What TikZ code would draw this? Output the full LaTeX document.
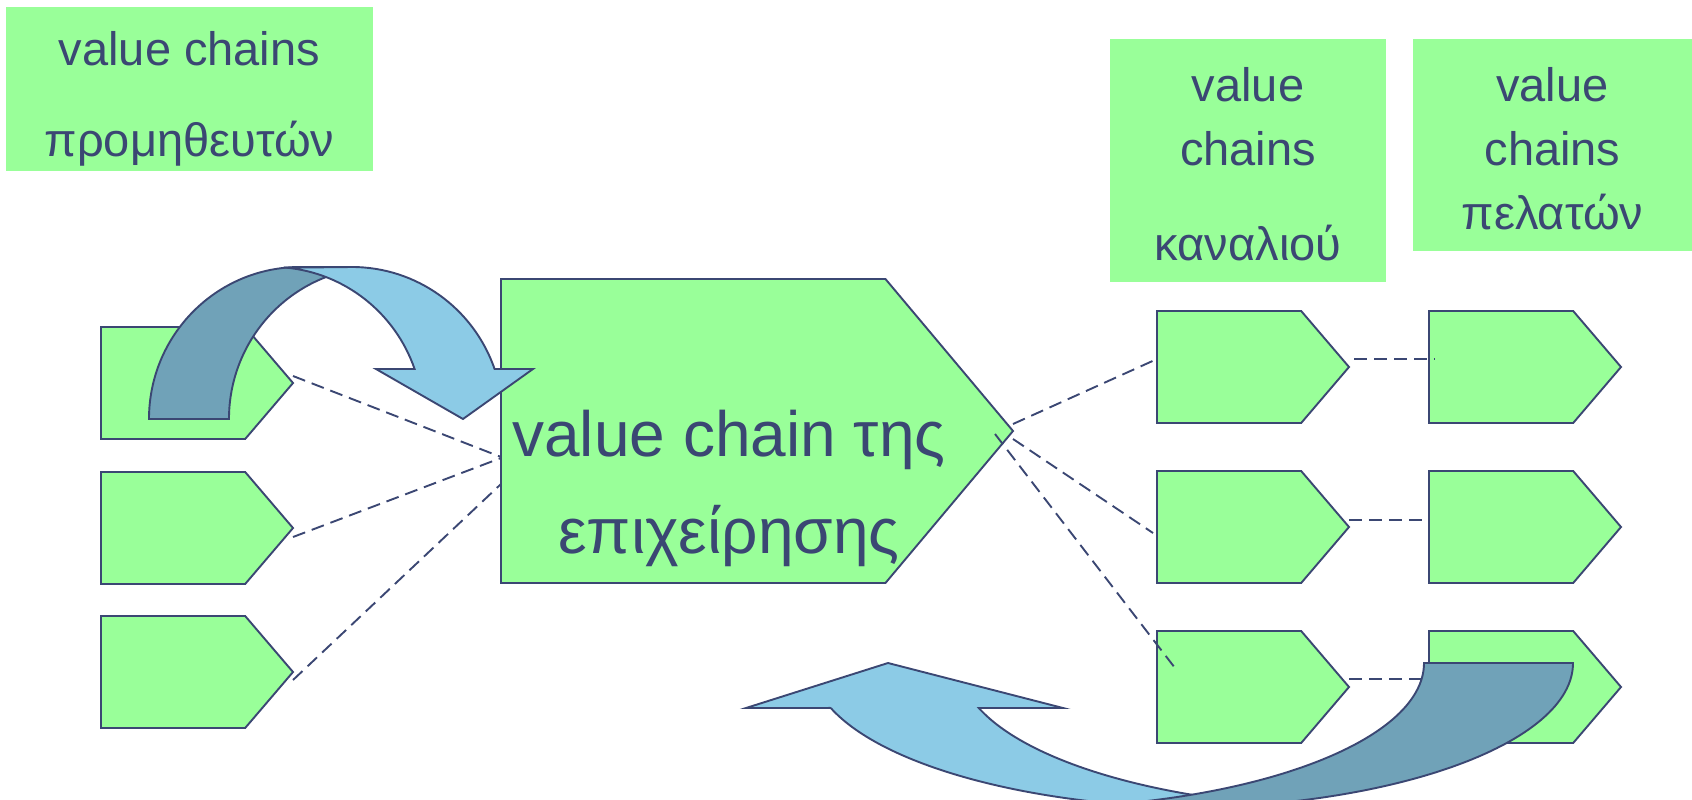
\documentclass[tikz,border=0pt]{standalone}
\usepackage{fontspec}
\setmainfont{Liberation Sans}
\usetikzlibrary{positioning}
\usetikzlibrary{shapes.symbols}

\definecolor{vcgreen}{HTML}{99FF99}
\definecolor{vcnavy}{HTML}{3B4773}
\definecolor{vclight}{HTML}{8CCBE6}
\definecolor{vcdark}{HTML}{70A2B8}

\begin{document}
\begin{tikzpicture}[x=1pt,y=-1pt,
	chain/.style={shape=signal,signal to=east,signal pointer angle=99,draw=vcnavy,fill=vcgreen,line width=1.9pt,minimum width=192pt,minimum height=112pt,inner sep=0pt,outer sep=0pt},
	tagbox/.style={fill=vcgreen,inner sep=0pt,outer sep=0pt},
	tagtext/.style={anchor=north,inner sep=0pt,align=center,text=vcnavy,font=\fontsize{47}{64}\selectfont},
	link/.style={draw=vcnavy,line width=1.9pt,dash pattern=on 13pt off 7pt},
	flowarrow/.style={draw=vcnavy,line width=1.9pt}]
	\useasboundingbox (0,0) rectangle (1692,800);

	\node [chain,anchor=west] at (101,383) (sup1) {};
	\node [chain,below=33pt of sup1] (sup2) {};
	\node [chain,below=32pt of sup2] (sup3) {};
	\node [chain,minimum width=512pt,minimum height=304pt,signal pointer angle=100,anchor=west] at (501,431) (firm) {};
	\node [chain,anchor=west] at (1157,367) (chan1) {};
	\node [chain,below=48pt of chan1] (chan2) {};
	\node [chain,below=48pt of chan2] (chan3) {};
	\node [chain,right=80pt of chan1] (cust1) {};
	\node [chain,right=80pt of chan2] (cust2) {};
	\node [chain,right=80pt of chan3] (cust3) {};

	\node [tagbox,minimum width=367pt,minimum height=164pt] at (189.5,89) (supbox) {};
	\node [tagbox,minimum width=276pt,minimum height=243pt] at (1248,160.5) (chanbox) {};
	\node [tagbox,minimum width=279pt,minimum height=212pt,right=27pt of chanbox.north east,anchor=north west] (custbox) {};
	\node [tagtext,below=18pt of supbox.north] (suptext) {\rule{0pt}{40pt}value chains\\[27pt]προμηθευτών};
	\node [tagtext,below=22pt of chanbox.north] (chantext) {\rule{0pt}{40pt}value\\chains\\[31pt]καναλιού};
	\node [tagtext,below=22pt of custbox.north] (custtext) {\rule{0pt}{40pt}value\\chains\\πελατών};
	\node [tagtext,font=\fontsize{64}{97}\selectfont] at (729,401) (firmtext) {\rule{0pt}{55pt}value chain της\\επιχείρησης};

	\draw [link] ([yshift=7pt]sup1.east) -- ([yshift=-26pt]firm.west);
	\draw [link] ([yshift=-9pt]sup2.east) -- ([yshift=-27pt]firm.west);
	\draw [link] ([yshift=-8pt]sup3.east) -- ([yshift=-53pt]firm.west);
	\draw [link] ([yshift=7pt]firm.east) -- ([yshift=8pt]chan1.west);
	\draw [link] ([yshift=-8pt]firm.east) -- ([xshift=-4pt,yshift=-6pt]chan2.west);
	\draw [link] ([xshift=-18pt,yshift=-3pt]firm.east) -- ([xshift=18pt,yshift=19pt]chan3.west);
	\draw [link] ([xshift=5pt,yshift=8pt]chan1.east) -- ([xshift=6pt,yshift=8pt]cust1.west);
	\draw [link] ([yshift=7pt]chan2.east) -- ([yshift=7pt]cust2.west);
	\draw [link] ([yshift=8pt]chan3.east) -- ([yshift=8pt]cust3.west);

	\draw [flowarrow,fill=vcdark] (149,419) arc[start angle=180,end angle=270,x radius=151,y radius=152] -- (352,267) -- (340.9,272.2) arc[start angle=255,end angle=180,x radius=151,y radius=152] -- cycle;
	\draw [flowarrow,fill=vclight] (286,267.7) -- (352,267) arc[start angle=270,end angle=340.8,x radius=151,y radius=152] -- (533,369) -- (463,419) -- (376,369) -- (414.6,369) arc[start angle=340.8,end angle=275.3,x radius=151,y radius=152] -- cycle;
	\draw [flowarrow,fill=vclight] (830.8,708) -- (746,708) -- (888,663) -- (1063,708) -- (978.8,708) arc[start angle=161.92,end angle=90,x radius=400,y radius=145] -- (1211,808) arc[start angle=90,end angle=161.92,x radius=400,y radius=145] -- cycle;
	\draw [flowarrow,fill=vcdark] (1424,663) -- (1573,663) arc[start angle=0,end angle=90,x radius=400,y radius=145] -- (1024,808) arc[start angle=90,end angle=0,x radius=400,y radius=145] -- cycle;
\end{tikzpicture}
\end{document}
